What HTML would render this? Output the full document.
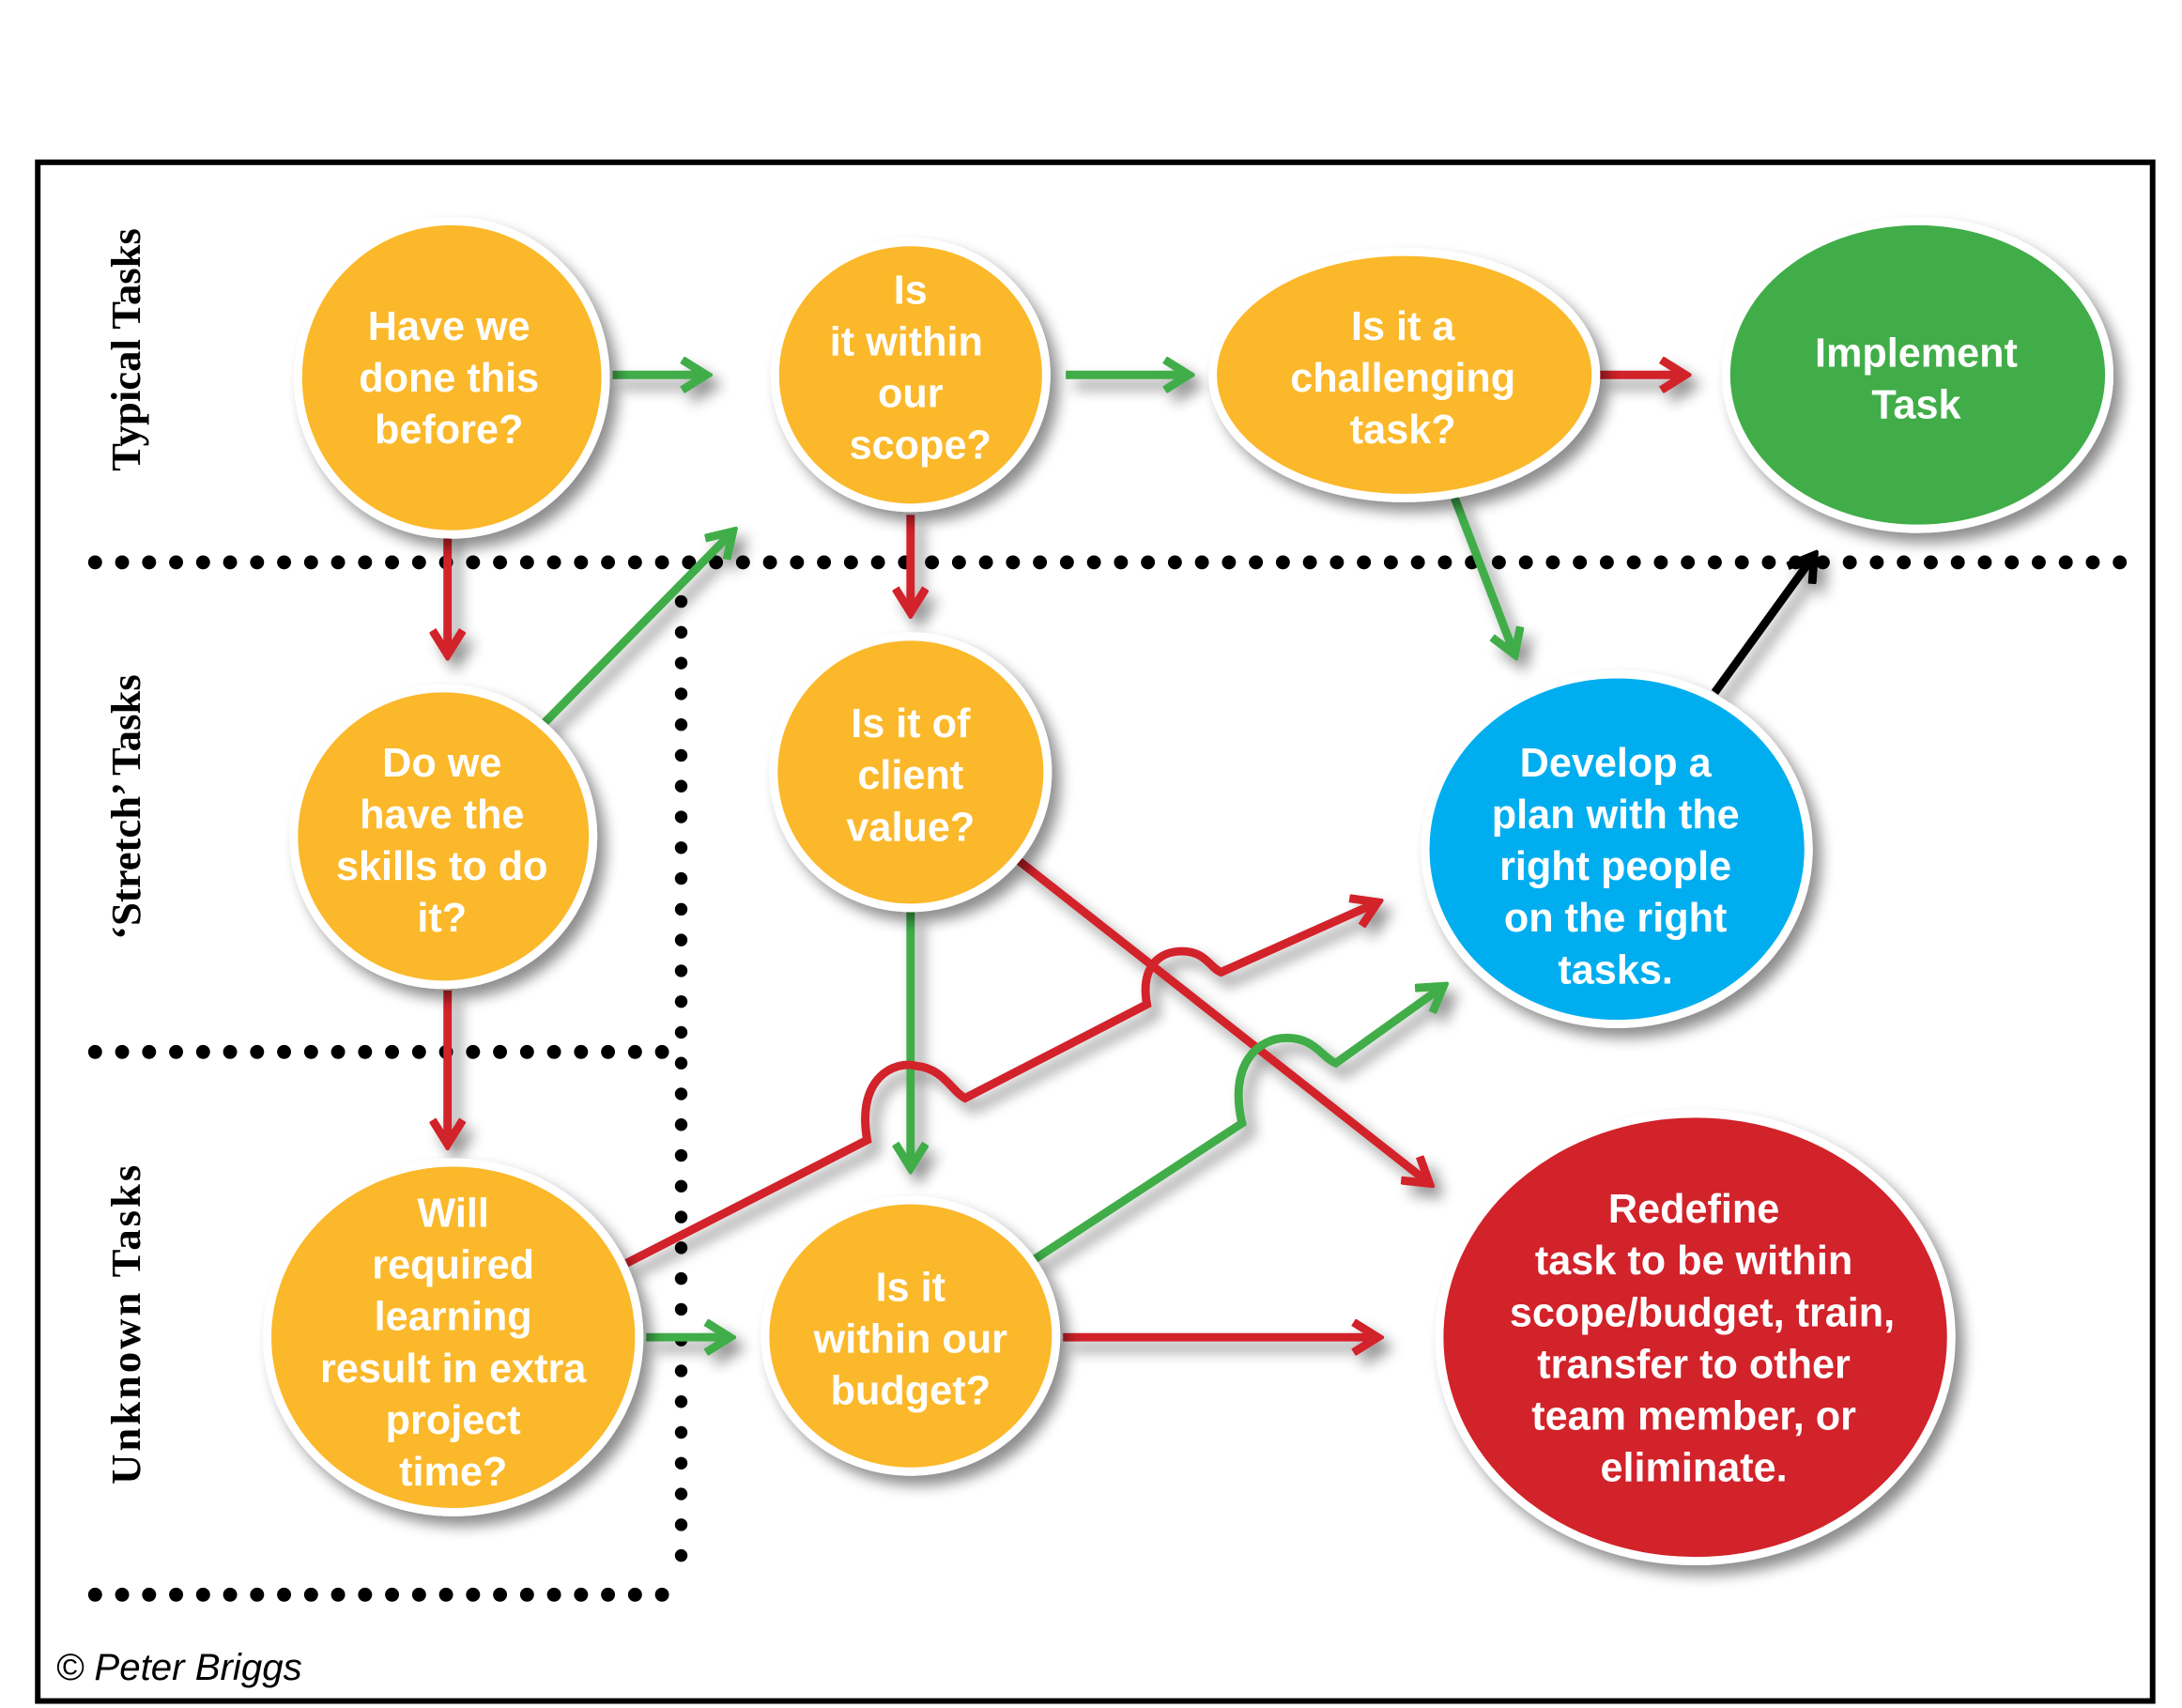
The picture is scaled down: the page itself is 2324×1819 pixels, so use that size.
<!DOCTYPE html>
<html><head><meta charset="utf-8"><style>
html,body{margin:0;padding:0;background:#fff;}
svg{display:block;}
.t{font-family:"Liberation Sans Narrow","Liberation Sans",sans-serif;font-weight:bold;fill:#fff;font-size:29px;text-anchor:middle;}
.lane{font-family:"Liberation Serif",serif;font-weight:bold;font-size:30px;fill:#000;text-anchor:middle;}
</style></head><body>
<svg width="2324" height="1819" viewBox="0 0 1560 1221" xmlns="http://www.w3.org/2000/svg">
<defs>
<filter id="sh" x="-20%" y="-20%" width="150%" height="150%">
<feGaussianBlur in="SourceAlpha" stdDeviation="5"/>
<feOffset dx="6" dy="7" result="b"/>
<feComponentTransfer><feFuncA type="linear" slope="0.45"/></feComponentTransfer>
<feMerge><feMergeNode/><feMergeNode in="SourceGraphic"/></feMerge>
</filter>
<marker id="mg" markerUnits="userSpaceOnUse" viewBox="0 0 24 24" refX="20" refY="12" markerWidth="26" markerHeight="26" orient="auto"><path d="M4,2 L20,12 L4,22" fill="none" stroke="#41AD49" stroke-width="5.5"/></marker>
<marker id="mr" markerUnits="userSpaceOnUse" viewBox="0 0 24 24" refX="20" refY="12" markerWidth="26" markerHeight="26" orient="auto"><path d="M4,2 L20,12 L4,22" fill="none" stroke="#D2232A" stroke-width="5.5"/></marker>
<marker id="mk" markerUnits="userSpaceOnUse" viewBox="0 0 24 24" refX="20" refY="12" markerWidth="26" markerHeight="26" orient="auto"><path d="M4,2 L20,12 L4,22" fill="none" stroke="#000" stroke-width="5.5"/></marker>
</defs>
<rect x="27" y="116" width="1512" height="1100" fill="none" stroke="#000" stroke-width="4"/>
<g stroke="#000" stroke-linecap="round" fill="none">
<line x1="68" y1="402" x2="1520" y2="402" stroke-width="10" stroke-dasharray="0 19.3"/>
<line x1="68" y1="752" x2="480" y2="752" stroke-width="10" stroke-dasharray="0 19.3"/>
<line x1="68" y1="1140" x2="488" y2="1140" stroke-width="10" stroke-dasharray="0 19.3"/>
<line x1="487" y1="430" x2="487" y2="1115" stroke-width="9" stroke-dasharray="0 22"/>
</g>
<g fill="none" stroke-width="6" filter="url(#sh)">
<line x1="438" y1="268" x2="505" y2="268" stroke="#41AD49" marker-end="url(#mg)"/>
<line x1="762" y1="268" x2="850" y2="268" stroke="#41AD49" marker-end="url(#mg)"/>
<line x1="1143" y1="268" x2="1205" y2="268" stroke="#D2232A" marker-end="url(#mr)"/>
<line x1="320" y1="380" x2="320" y2="468" stroke="#D2232A" marker-end="url(#mr)"/>
<line x1="651" y1="368" x2="651" y2="438" stroke="#D2232A" marker-end="url(#mr)"/>
<line x1="388" y1="518" x2="524" y2="380" stroke="#41AD49" marker-end="url(#mg)"/>
<line x1="1040" y1="356" x2="1083" y2="468" stroke="#41AD49" marker-end="url(#mg)"/>
<line x1="1226" y1="495" x2="1297" y2="397" stroke="#000" marker-end="url(#mk)"/>
<line x1="320" y1="708" x2="320" y2="818" stroke="#D2232A" marker-end="url(#mr)"/>
<line x1="651" y1="652" x2="651" y2="835" stroke="#41AD49" marker-end="url(#mg)"/>
<line x1="728" y1="615" x2="1022" y2="846" stroke="#D2232A" marker-end="url(#mr)"/>
<path d="M448,903 L620,815 C612,770 640,758 655,762 C675,764 680,780 690,785 L820,718 C815,690 830,680 845,680 C862,680 865,692 873,695 L985,645" stroke="#D2232A" marker-end="url(#mr)"/>
<path d="M740,900 L888,803 C878,760 900,742 920,742 C940,742 945,756 955,760 L1032,705" stroke="#41AD49" marker-end="url(#mg)"/>
<line x1="462" y1="956" x2="522" y2="956" stroke="#41AD49" marker-end="url(#mg)"/>
<line x1="760" y1="956" x2="985" y2="956" stroke="#D2232A" marker-end="url(#mr)"/>
</g>
<g stroke="#fff" stroke-width="6" filter="url(#sh)">
<ellipse cx="323" cy="270" rx="110" ry="112" fill="#FBB829"/>
<ellipse cx="651" cy="268" rx="97" ry="95" fill="#FBB829"/>
<ellipse cx="1004" cy="268" rx="137" ry="88" fill="#FBB829"/>
<ellipse cx="1371" cy="268" rx="137" ry="110" fill="#41AD49"/>
<ellipse cx="317" cy="598" rx="107" ry="106" fill="#FBB829"/>
<ellipse cx="651" cy="552" rx="98" ry="97" fill="#FBB829"/>
<ellipse cx="1156" cy="607" rx="137" ry="125" fill="#00AEEF"/>
<ellipse cx="324" cy="956" rx="133" ry="125" fill="#FBB829"/>
<ellipse cx="651" cy="955" rx="104" ry="97" fill="#FBB829"/>
<ellipse cx="1212" cy="956" rx="183" ry="160" fill="#D2232A"/>
</g>
<text class="t" x="321" y="243">Have we</text>
<text class="t" x="321" y="280">done this</text>
<text class="t" x="321" y="317">before?</text>
<text class="t" x="651" y="217">Is</text>
<text class="t" x="648" y="254">it within</text>
<text class="t" x="651" y="291">our</text>
<text class="t" x="658" y="328">scope?</text>
<text class="t" x="1003" y="243">Is it a</text>
<text class="t" x="1003" y="280">challenging</text>
<text class="t" x="1003" y="317">task?</text>
<text class="t" x="1370" y="262">Implement</text>
<text class="t" x="1370" y="299">Task</text>
<text class="t" x="316" y="555">Do we</text>
<text class="t" x="316" y="592">have the</text>
<text class="t" x="316" y="629">skills to do</text>
<text class="t" x="316" y="666">it?</text>
<text class="t" x="651" y="527">Is it of</text>
<text class="t" x="651" y="564">client</text>
<text class="t" x="651" y="601">value?</text>
<text class="t" x="1155" y="555">Develop a</text>
<text class="t" x="1155" y="592">plan with the</text>
<text class="t" x="1155" y="629">right people</text>
<text class="t" x="1155" y="666">on the right</text>
<text class="t" x="1155" y="703">tasks.</text>
<text class="t" x="324" y="877">Will</text>
<text class="t" x="324" y="914">required</text>
<text class="t" x="324" y="951">learning</text>
<text class="t" x="324" y="988">result in extra</text>
<text class="t" x="324" y="1025">project</text>
<text class="t" x="324" y="1062">time?</text>
<text class="t" x="651" y="930">Is it</text>
<text class="t" x="651" y="967">within our</text>
<text class="t" x="651" y="1004">budget?</text>
<text class="t" x="1211" y="874">Redefine</text>
<text class="t" x="1211" y="911">task to be within</text>
<text class="t" x="1217" y="948">scope/budget, train,</text>
<text class="t" x="1211" y="985">transfer to other</text>
<text class="t" x="1211" y="1022">team member, or</text>
<text class="t" x="1211" y="1059">eliminate.</text>
<text class="lane" transform="translate(100,250) rotate(-90)">Typical Tasks</text>
<text class="lane" transform="translate(100,577) rotate(-90)">‘Stretch’ Tasks</text>
<text class="lane" transform="translate(100,946) rotate(-90)" letter-spacing="2">Unknown Tasks</text>
<text x="40" y="1201" font-family="Liberation Sans Narrow, Liberation Sans, sans-serif" font-style="italic" font-size="27" fill="#000">© Peter Briggs</text>
</svg>
</body></html>
